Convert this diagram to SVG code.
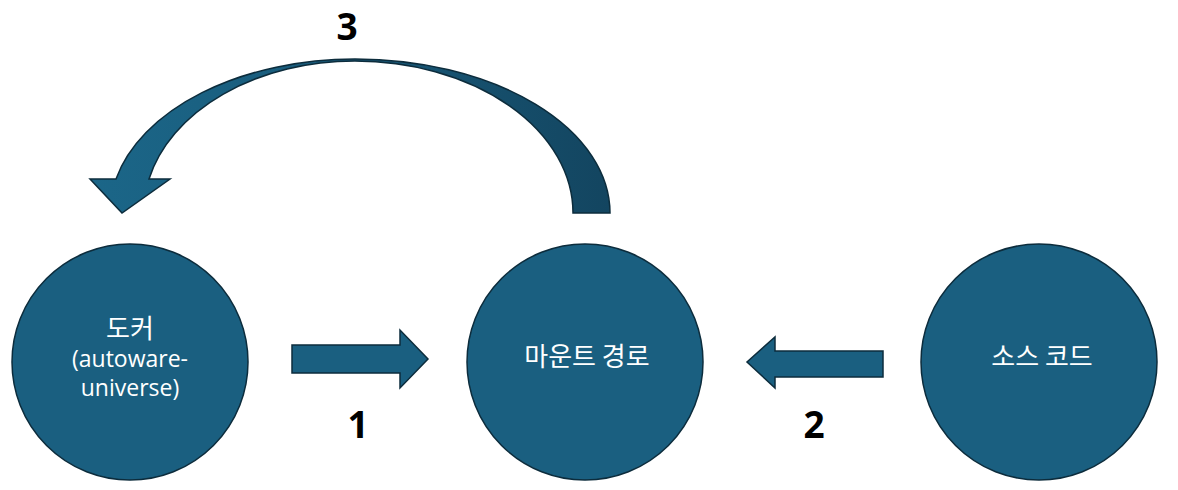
<svg xmlns="http://www.w3.org/2000/svg" width="1178" height="490" viewBox="0 0 1178 490">
  <defs>
    <linearGradient id="curveGrad" x1="90" y1="0" x2="610" y2="0" gradientUnits="userSpaceOnUse">
      <stop offset="0" stop-color="#1b6688"/>
      <stop offset="0.45" stop-color="#195b7b"/>
      <stop offset="1" stop-color="#134560"/>
    </linearGradient>
  </defs>
  <style>
    .node { fill: #1a5f80; stroke: #0c2c3c; stroke-width: 1.5; }
    .arrow { fill: #1a5f80; stroke: #0c2c3c; stroke-width: 1.5; stroke-linejoin: miter; }
    .label { fill: #ffffff; font-family: "Open Sans", "Noto Sans CJK KR", sans-serif; font-size: 23px; text-anchor: middle; }
    .ko { font-family: "Noto Sans CJK KR", "Open Sans", sans-serif; font-size: 26px; }
    .num { fill: #000000; font-family: "Open Sans", "Noto Sans", sans-serif; font-weight: bold; font-size: 37px; text-anchor: middle; }
  </style>
  <rect width="1178" height="490" fill="#ffffff"/>

  <g id="node-docker">
    <circle class="node" cx="130" cy="362" r="118"/>
    <text class="label ko" x="130" y="338">도커</text>
    <text class="label" x="130" y="367">(autoware-</text>
    <text class="label" x="130" y="396">universe)</text>
  </g>

  <g id="node-mount">
    <circle class="node" cx="585" cy="362" r="118"/>
    <text class="label ko" x="587" y="366">마운트 경로</text>
  </g>

  <g id="node-source">
    <circle class="node" cx="1039" cy="362" r="118"/>
    <text class="label ko" x="1042" y="366">소스 코드</text>
  </g>

  <g id="connectors">
    <path id="arrow-1" class="arrow" d="M 292 345 L 400 345 L 400 330 L 428 359 L 400 388 L 400 373 L 292 373 Z"/>
    <path id="arrow-2" class="arrow" d="M 883 351 L 775 351 L 775 337 L 747 362 L 775 388 L 775 377 L 883 377 Z"/>
    <path id="arrow-3" fill="url(#curveGrad)" stroke="#0c2c3c" stroke-width="1.5" stroke-linejoin="miter"
      d="M 610 213 A 255 154 0 0 0 355 59 A 245 154 0 0 0 116 179 L 90 179 L 122 213 L 170 179 L 149 179 A 211 152 0 0 1 355 61 A 218 152 0 0 1 573 213 Z"/>
    <text class="num" x="347" y="40">3</text>
    <text class="num" x="358" y="438">1</text>
    <text class="num" x="814" y="438">2</text>
  </g>
</svg>
